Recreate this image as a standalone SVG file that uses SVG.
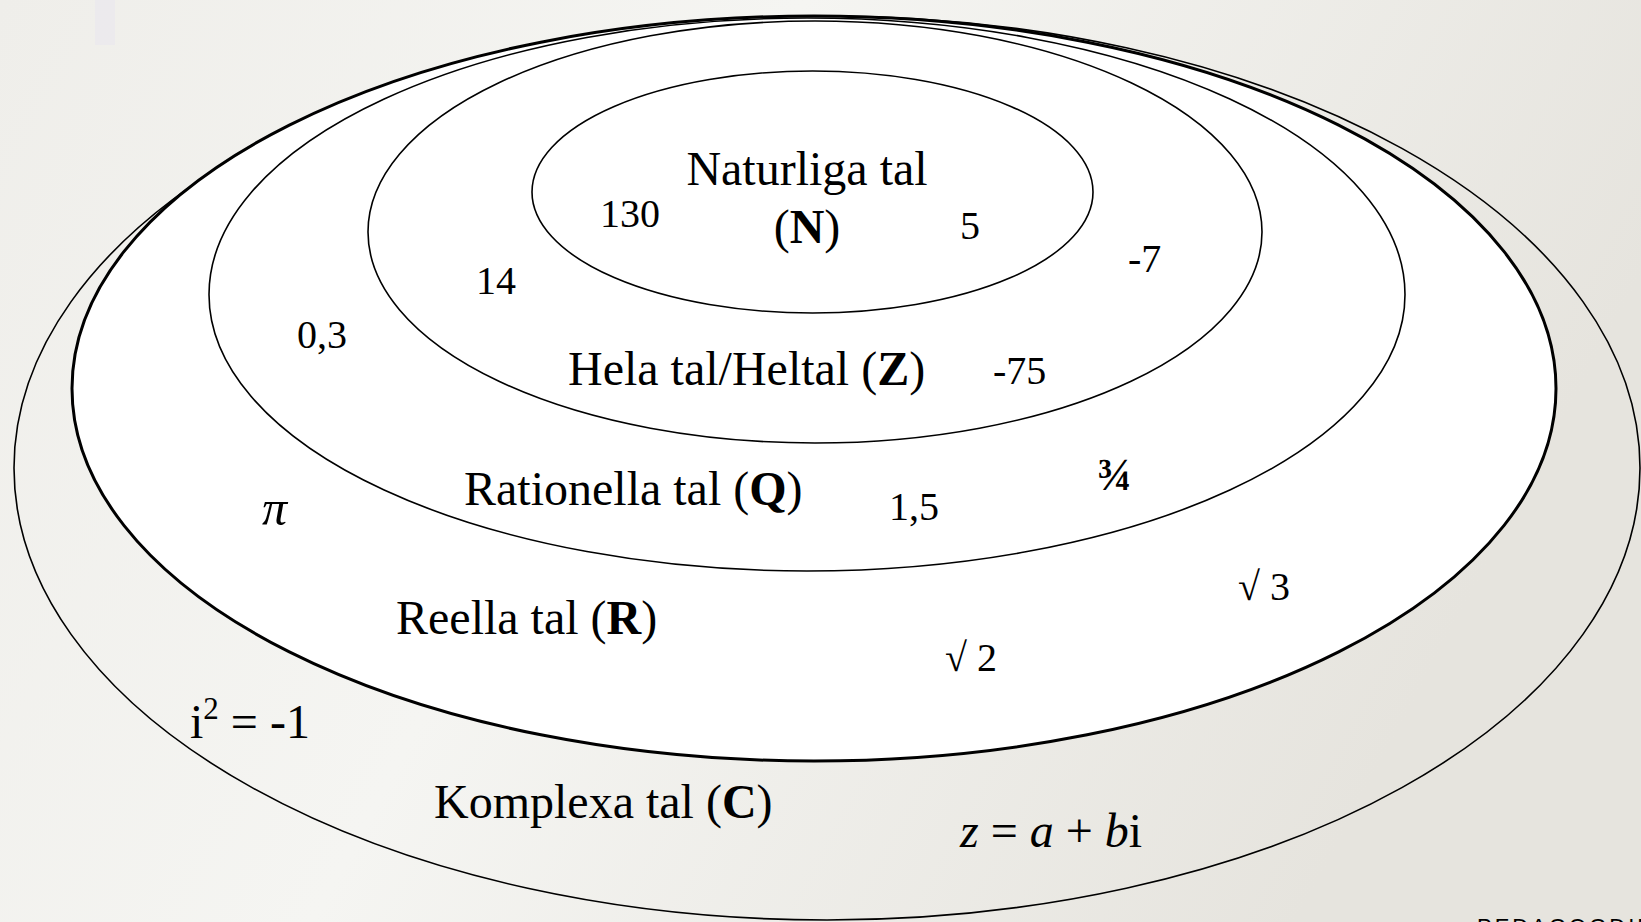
<svg xmlns="http://www.w3.org/2000/svg" width="1641" height="922" viewBox="0 0 1641 922">
  <defs>
    <linearGradient id="bg" x1="0" y1="0" x2="1" y2="0.3">
      <stop offset="0" stop-color="#efeeea"/>
      <stop offset="0.45" stop-color="#f5f5f2"/>
      <stop offset="1" stop-color="#e6e4de"/>
    </linearGradient>
  </defs>
  <style>
    .set { fill: #ffffff; stroke: #000000; stroke-width: 1.6; }
    .open { fill: none; stroke: #000000; stroke-width: 1.6; }
    .thick { stroke-width: 3; }
    text { font-family: "Liberation Serif", "Times New Roman", serif; fill: #000000; }
    .lbl { font-size: 48px; }
    .num { font-size: 40px; }
    .b { font-weight: bold; }
    .it { font-style: italic; }
    .sup { font-size: 31px; }
  </style>
  <rect x="0" y="0" width="1641" height="922" fill="url(#bg)"/>
  <rect x="95" y="0" width="20" height="45" fill="#e9e8ee" opacity="0.7"/>

  <g id="komplexa">
    <ellipse class="open" cx="827" cy="468" rx="813" ry="452"/>
    <text class="lbl" x="434" y="818">Komplexa tal (<tspan class="b">C</tspan>)</text>
    <text class="lbl" x="190" y="738">i<tspan class="sup" dy="-19">2</tspan><tspan dy="19"> = -1</tspan></text>
    <text class="lbl" x="960" y="847"><tspan class="it">z</tspan> = <tspan class="it">a</tspan> + <tspan class="it">b</tspan>i</text>
  </g>

  <g id="reella">
    <ellipse class="set thick" cx="814" cy="388.5" rx="742" ry="372.5"/>
    <text class="lbl" x="396" y="634">Reella tal (<tspan class="b">R</tspan>)</text>
    <text class="it" x="262" y="525" font-size="50">π</text>
    <text class="num" x="1238" y="600">√ 3</text>
    <text class="num" x="945" y="671">√ 2</text>
  </g>

  <g id="rationella">
    <ellipse class="set" cx="807" cy="294.5" rx="598" ry="276.5"/>
    <text class="lbl" x="464" y="505">Rationella tal (<tspan class="b">Q</tspan>)</text>
    <text class="num" x="297" y="348">0,3</text>
    <text class="num" x="889" y="520">1,5</text>
    <text class="b" x="1097" y="490" font-size="46">¾</text>
  </g>

  <g id="hela">
    <ellipse class="set" cx="815" cy="232" rx="447" ry="211"/>
    <text class="lbl" x="568" y="385">Hela tal/Heltal (<tspan class="b">Z</tspan>)</text>
    <text class="num" x="476" y="294">14</text>
    <text class="num" x="1128" y="272">-7</text>
    <text class="num" x="993" y="384">-75</text>
  </g>

  <g id="naturliga">
    <ellipse class="set" cx="812.5" cy="192" rx="280.5" ry="121"/>
    <text class="lbl" x="807" y="185" text-anchor="middle">Naturliga tal</text>
    <text class="lbl" x="807" y="243" text-anchor="middle">(<tspan class="b">N</tspan>)</text>
    <text class="num" x="600" y="227">130</text>
    <text class="num" x="960" y="239">5</text>
  </g>

  <g id="connectors"></g>

  <text x="1477" y="934" font-size="22" fill="#a8a8a8" letter-spacing="3" style="font-family: 'Liberation Sans', Arial, sans-serif;">PEDAGOGDIR</text>
</svg>
